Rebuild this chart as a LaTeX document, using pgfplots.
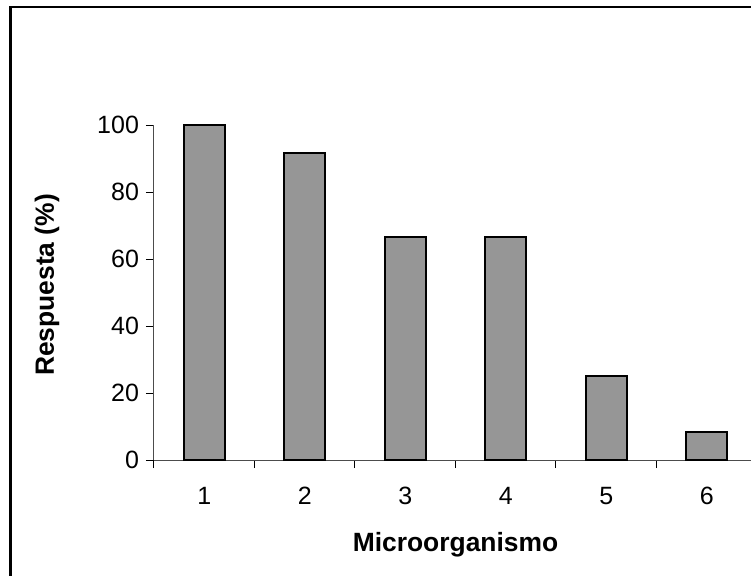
\documentclass[border=0pt]{standalone}
\usepackage{pgfplots}
\pgfplotsset{compat=1.18}
\usepackage{fontspec}
\setmainfont{Liberation Sans}
\definecolor{barfill}{RGB}{150,150,150}
\begin{document}
\begin{tikzpicture}
% page area: 1 unit = 0.5pt, origin at the top left corner
\useasboundingbox (0,0) rectangle (375.5pt,-287.5pt);
% chart frame (runs past the right and bottom edges)
\draw[line width=1.3pt] (5.25pt,-3.5pt) rectangle (420pt,-320pt);
\begin{axis}[
  at={(77pt,-230pt)}, anchor=south west,
  scale only axis, width=301.5pt, height=167.5pt,
  xmin=0.5, xmax=6.5, ymin=0, ymax=100,
  axis lines*=left,
  axis line style={line width=0.5pt, black!70},
  xtick={1,...,6}, minor xtick={0.5,1.5,...,6.5},
  ytick={0,20,...,100},
  tick align=outside,
  major tick length=4pt, minor tick length=4pt,
  tick style={black, line width=0.5pt},
  major x tick style={draw=none},
  ybar, bar width=20.5pt,
  /pgf/number format/assume math mode=true,
  ticklabel style={font=\fontsize{12.5}{15}\selectfont},
  xticklabel style={yshift=-6pt},
  clip=false,
]
\addplot[draw=black, line width=1pt, fill=barfill]
  coordinates {(1,100) (2,91.7) (3,66.7) (4,66.7) (5,25) (6,8.3)};
\end{axis}
\node[anchor=base, font=\fontsize{13.2}{16}\selectfont\bfseries] at (227.75pt,-275.85pt) {Microorganismo};
\node[anchor=base, rotate=90, font=\fontsize{13.2}{16}\selectfont\bfseries] at (27pt,-142.5pt) {Respuesta (\%)};
\end{tikzpicture}
\end{document}
